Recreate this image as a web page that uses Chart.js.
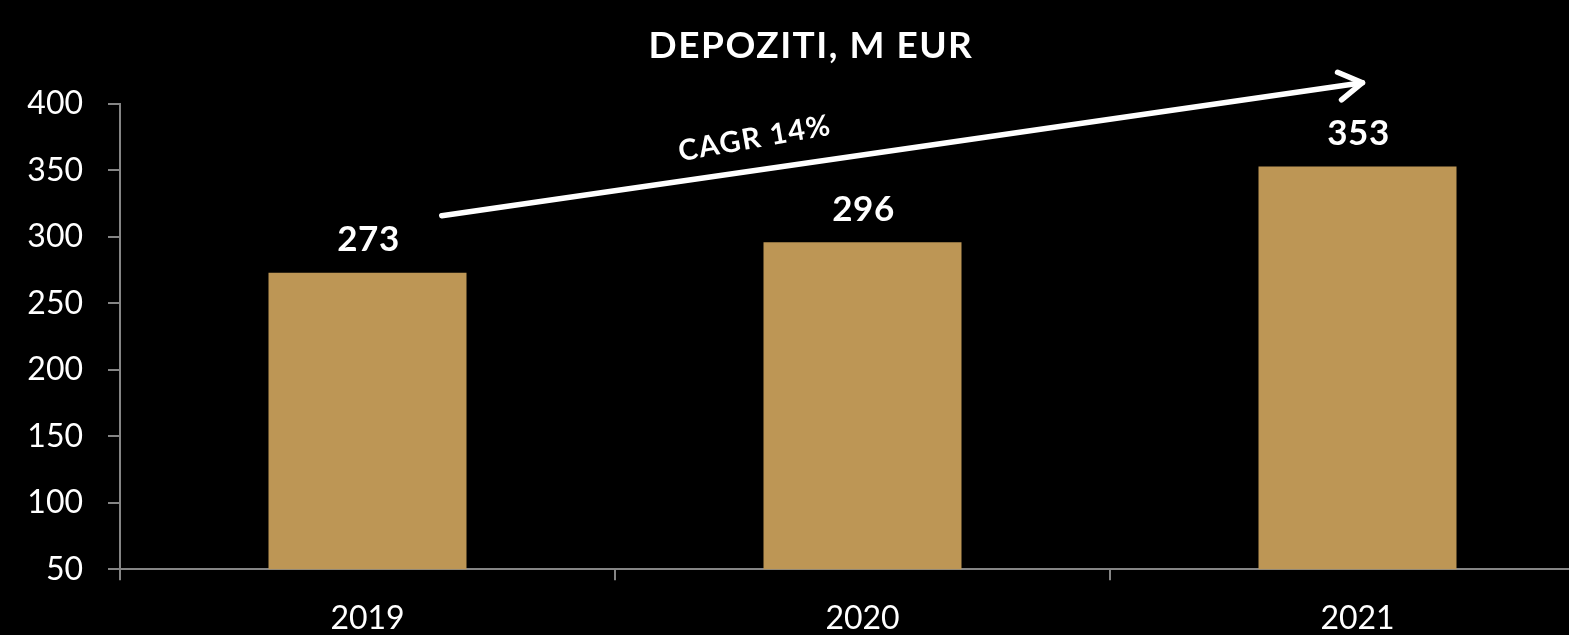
<!DOCTYPE html>
<html>
<head>
<meta charset="utf-8">
<script src="https://cdn.jsdelivr.net/npm/chart.js@4.4.0/dist/chart.umd.min.js"></script>
<style>
  html, body { margin: 0; padding: 0; background: #000; overflow: hidden; }
  #wrap { width: 1620px; height: 635px; }
</style>
</head>
<body>
<div id="wrap"><canvas id="depChart"></canvas></div>
<script>
const years = ['2019', '2020', '2021']
const deposits = [273, 296, 353]
const yTicks = [50, 100, 150, 200, 250, 300, 350, 400]
const chartTitle = 'DEPOZITI, M EUR'
const cagrText = 'CAGR 14%'
// arrow ends in data units: [category index, value]
const cagrStart = [0.15, 316]
const cagrEnd = [2.01, 416]

const barColor = '#bd9655'
const axisColor = '#858585'
const fontName = 'Lato, "Noto Sans", sans-serif'

// title drawn by hand so it can get some letter spacing
const titleText = {
  id: 'titleText',
  afterDraw(chart) {
    const c = chart.ctx
    c.save()
    c.fillStyle = '#fff'
    c.font = 'bold 37px ' + fontName
    c.letterSpacing = '1.5px'
    c.textAlign = 'center'
    c.textBaseline = 'middle'
    c.fillText(chartTitle, chart.width / 2 + 1, 46)
    c.restore()
  }
}

const valueLabels = {
  id: 'valueLabels',
  afterDatasetsDraw(chart) {
    const c = chart.ctx
    const meta = chart.getDatasetMeta(0)
    c.save()
    c.fillStyle = '#fff'
    c.font = 'bold 35px ' + fontName
    c.letterSpacing = '0.5px'
    c.textAlign = 'center'
    c.textBaseline = 'middle'
    meta.data.forEach((bar, i) => {
      c.fillText(deposits[i], bar.x + 1, bar.y - 33)
    })
    c.restore()
  }
}

const cagrArrow = {
  id: 'cagrArrow',
  afterDraw(chart) {
    const xs = chart.scales.x
    const ys = chart.scales.y
    const x1 = xs.getPixelForValue(cagrStart[0]), y1 = ys.getPixelForValue(cagrStart[1])
    const x2 = xs.getPixelForValue(cagrEnd[0]), y2 = ys.getPixelForValue(cagrEnd[1])
    const ang = Math.atan2(y2 - y1, x2 - x1)
    const c = chart.ctx
    c.save()
    c.strokeStyle = '#fff'
    c.lineWidth = 5.5
    c.lineCap = 'round'
    c.lineJoin = 'round'
    c.beginPath()
    c.moveTo(x1, y1)
    c.lineTo(x2, y2)
    c.stroke()
    // open arrow head
    const len = 27
    c.beginPath()
    c.moveTo(x2 + len * Math.cos(ang + 2.6), y2 + len * Math.sin(ang + 2.6))
    c.lineTo(x2, y2)
    c.lineTo(x2 + len * Math.cos(ang - 2.6), y2 + len * Math.sin(ang - 2.6))
    c.stroke()

    const t = 0.34
    const tx = x1 + (x2 - x1) * t, ty = y1 + (y2 - y1) * t
    c.translate(tx, ty - 32)
    c.rotate(-10 * Math.PI / 180)
    c.fillStyle = '#fff'
    c.font = 'bold 29px ' + fontName
    c.letterSpacing = '1.5px'
    c.textAlign = 'center'
    c.textBaseline = 'middle'
    c.fillText(cagrText, 0, 0)
    c.restore()
  }
}

new Chart(document.getElementById('depChart'), {
  type: 'bar',
  data: {
    labels: years,
    datasets: [{
      data: deposits,
      backgroundColor: barColor,
      borderWidth: 0,
      barPercentage: 0.4,
      categoryPercentage: 1
    }]
  },
  options: {
    responsive: true,
    maintainAspectRatio: false,
    animation: false,
    layout: { padding: { left: 0, right: 15, top: 104, bottom: 0 } },
    plugins: {
      legend: { display: false },
      tooltip: { enabled: false },
      title: { display: false }
    },
    scales: {
      x: {
        grid: { drawOnChartArea: false, drawTicks: true, tickLength: 11, color: axisColor, lineWidth: 2 },
        border: { color: axisColor, width: 2 },
        ticks: { color: '#fff', font: { family: fontName, size: 32, lineHeight: 1 }, padding: 22 },
        afterFit(scale) { scale.height = 65.7 }
      },
      y: {
        min: yTicks[0],
        max: yTicks[yTicks.length - 1],
        ticks: { stepSize: yTicks[1] - yTicks[0], color: '#fff', font: { family: fontName, size: 32 }, padding: 25 },
        grid: { drawOnChartArea: false, drawTicks: true, tickLength: 12, color: axisColor, lineWidth: 2 },
        border: { color: axisColor, width: 2 },
        afterFit(scale) { scale.width = 120 }
      }
    }
  },
  plugins: [titleText, valueLabels, cagrArrow]
})
</script>
</body>
</html>
